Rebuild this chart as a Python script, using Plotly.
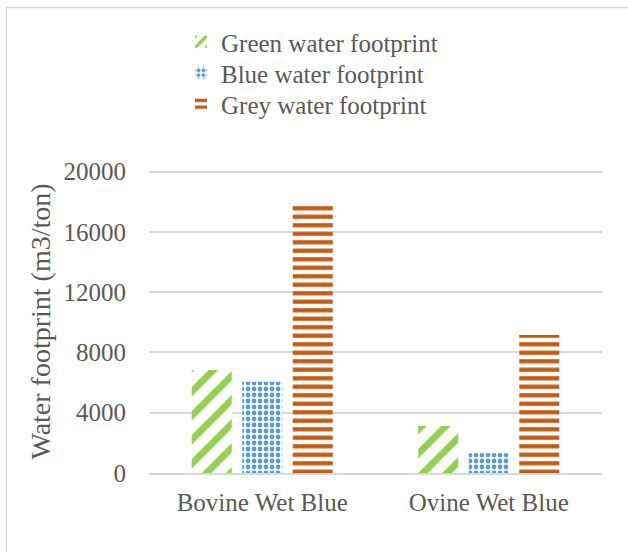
import plotly.graph_objects as go

# Water footprint of wet-blue leather by animal source (m3/ton)
categories = ["Bovine Wet Blue", "Ovine Wet Blue"]
green_wf = [6830, 3120]
blue_wf = [6060, 1310]
grey_wf = [17780, 9160]
y_ticks = [0, 4000, 8000, 12000, 16000, 20000]

FONT = "Liberation Serif"
TEXT = "#595959"
GRID = "#D9D9D9"

W, H = 628, 552
L, R, T, B = 149, 26, 170, 79
PW, PH = W - L - R, H - T - B


def px_x(px):
    return (px - L) / PW


def px_y(py):
    return (H - B - py) / PH


fig = go.Figure()
fig.add_bar(
    name="Green water footprint", x=categories, y=green_wf, legend="legend",
    marker=dict(color="white", line=dict(width=0),
                pattern=dict(shape="/", fgcolor="#92D050", bgcolor="white",
                             size=17, solidity=0.4, fillmode="replace")),
)
fig.add_bar(
    name="Blue water footprint", x=categories, y=blue_wf, legend="legend2",
    marker=dict(color="white", line=dict(width=0),
                pattern=dict(shape=".", fgcolor="#5B9BD5", bgcolor="white",
                             size=6, solidity=0.5, fillmode="replace")),
)
fig.add_bar(
    name="Grey water footprint", x=categories, y=grey_wf, legend="legend3",
    marker=dict(color="white", line=dict(width=0),
                pattern=dict(shape="-", fgcolor="#C55A11", bgcolor="white",
                             size=8.5, solidity=0.5, fillmode="replace")),
)

# chart frame (left and top edges)
frame = dict(type="line", xref="paper", yref="paper",
             line=dict(color=GRID, width=1.5))
fig.add_shape(**frame, x0=px_x(6.5), x1=px_x(6.5), y0=px_y(7), y1=px_y(552))
fig.add_shape(**frame, x0=px_x(6), x1=px_x(628), y0=px_y(7.5), y1=px_y(7.5))


def legend_at(top_px):
    return dict(x=px_x(181), y=px_y(top_px), xanchor="left", yanchor="top",
                orientation="v", bgcolor="rgba(0,0,0,0)",
                font=dict(family=FONT, size=25, color=TEXT),
                tracegroupgap=0, itemwidth=30)


fig.update_layout(
    width=W, height=H,
    margin=dict(l=L, r=R, t=T, b=B, autoexpand=False),
    paper_bgcolor="white", plot_bgcolor="white",
    barmode="group", bargap=0.331, bargroupgap=0.208,
    font=dict(family=FONT, size=25, color=TEXT),
    showlegend=True,
    legend=legend_at(19),
    legend2=legend_at(50),
    legend3=legend_at(81),
    xaxis=dict(showgrid=False, showline=True, linecolor=GRID, linewidth=1.5,
               ticks="outside", ticklen=6, tickcolor="rgba(0,0,0,0)",
               tickfont=dict(family=FONT, size=25, color=TEXT)),
    yaxis=dict(range=[0, 20100], tickvals=y_ticks,
               ticktext=[str(v) for v in y_ticks],
               showgrid=True, gridcolor=GRID, gridwidth=1.5, zeroline=False,
               showline=False, ticks="outside", ticklen=17,
               tickcolor="rgba(0,0,0,0)",
               tickfont=dict(family=FONT, size=25, color=TEXT),
               title=dict(text="Water footprint (m3/ton)", standoff=4,
                          font=dict(family=FONT, size=28, color=TEXT))),
)

fig.write_html("out.html")
